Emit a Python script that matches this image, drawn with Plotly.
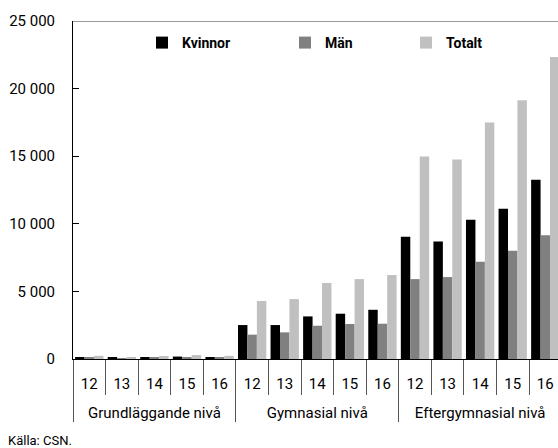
import plotly.graph_objects as go

nivaer = ["<br>Grundläggande nivå"] * 5 + ["<br>Gymnasial nivå"] * 5 + ["<br>Eftergymnasial nivå"] * 5
ar = ["12", "13", "14", "15", "16"] * 3

kvinnor = [150, 80, 130, 180, 130,
           2510, 2510, 3150, 3350, 3640,
           9040, 8690, 10300, 11110, 13250]
man = [80, 60, 90, 110, 100,
       1800, 1970, 2460, 2590, 2610,
       5910, 6060, 7190, 8000, 9160]
totalt = [230, 140, 220, 290, 230,
          4290, 4430, 5620, 5910, 6210,
          14970, 14750, 17490, 19140, 22340]

font_namn = "Roboto"

fig = go.Figure()
fig.add_trace(go.Bar(x=[nivaer, ar], y=kvinnor, name="Kvinnor",
                     marker=dict(color="#000000", line_width=0), legend="legend"))
fig.add_trace(go.Bar(x=[nivaer, ar], y=man, name="Män",
                     marker=dict(color="#808080", line_width=0), legend="legend2"))
fig.add_trace(go.Bar(x=[nivaer, ar], y=totalt, name="Totalt",
                     marker=dict(color="#c0c0c0", line_width=0), legend="legend3"))

legend_stil = dict(orientation="h", yanchor="middle", xanchor="left",
                   y=(359 - 43) / 338, bgcolor="rgba(0,0,0,0)", itemwidth=30,
                   font=dict(family=font_namn, size=14, color="#000", weight="bold"))

fig.update_layout(
    width=558, height=448,
    margin=dict(l=73, r=0, t=21, b=89, autoexpand=False),
    plot_bgcolor="white", paper_bgcolor="white",
    showlegend=True,
    barmode="group", bargap=0.13, bargroupgap=0,
    separators=", ",
    font=dict(family=font_namn, size=15, color="#000"),
    legend=dict(legend_stil, x=(160 - 73 - 18) / 485),
    legend2=dict(legend_stil, x=(303 - 73 - 18) / 485),
    legend3=dict(legend_stil, x=(424 - 73 - 18) / 485),
    xaxis=dict(type="multicategory", range=[-0.5, 14.39], automargin=False,
               showline=True, linecolor="#000", linewidth=1,
               ticks="outside", tickson="boundaries", ticklen=35,
               tickcolor="#555", tickwidth=1, ticklabelstandoff=11,
               showdividers=True, dividercolor="#555", dividerwidth=1,
               tickfont=dict(size=15), showgrid=False),
    yaxis=dict(range=[0, 25000], tickvals=[0, 5000, 10000, 15000, 20000, 25000],
               tickformat=",d", showline=True, linecolor="#000", linewidth=1,
               ticks="inside", ticklen=6, tickcolor="#000", automargin=False,
               ticklabelstandoff=14, showgrid=False, zeroline=False,
               tickfont=dict(size=15)),
    shapes=[dict(type="line", xref="paper", yref="y", x0=0, x1=1, y0=25000, y1=25000,
                 line=dict(color="#777", width=1.5))],
    annotations=[dict(text="Källa: CSN.", xref="paper", yref="paper",
                      x=(6 - 73) / 485, y=(359 - 440) / 338, xanchor="left", yanchor="middle",
                      showarrow=False, font=dict(size=13))],
)

# sidans standardmarginal (8 px) tas bort så att figuren fyller fönstret
fig.write_html("out.html", config={"displayModeBar": False},
               post_script="document.body.style.margin='0px';")
